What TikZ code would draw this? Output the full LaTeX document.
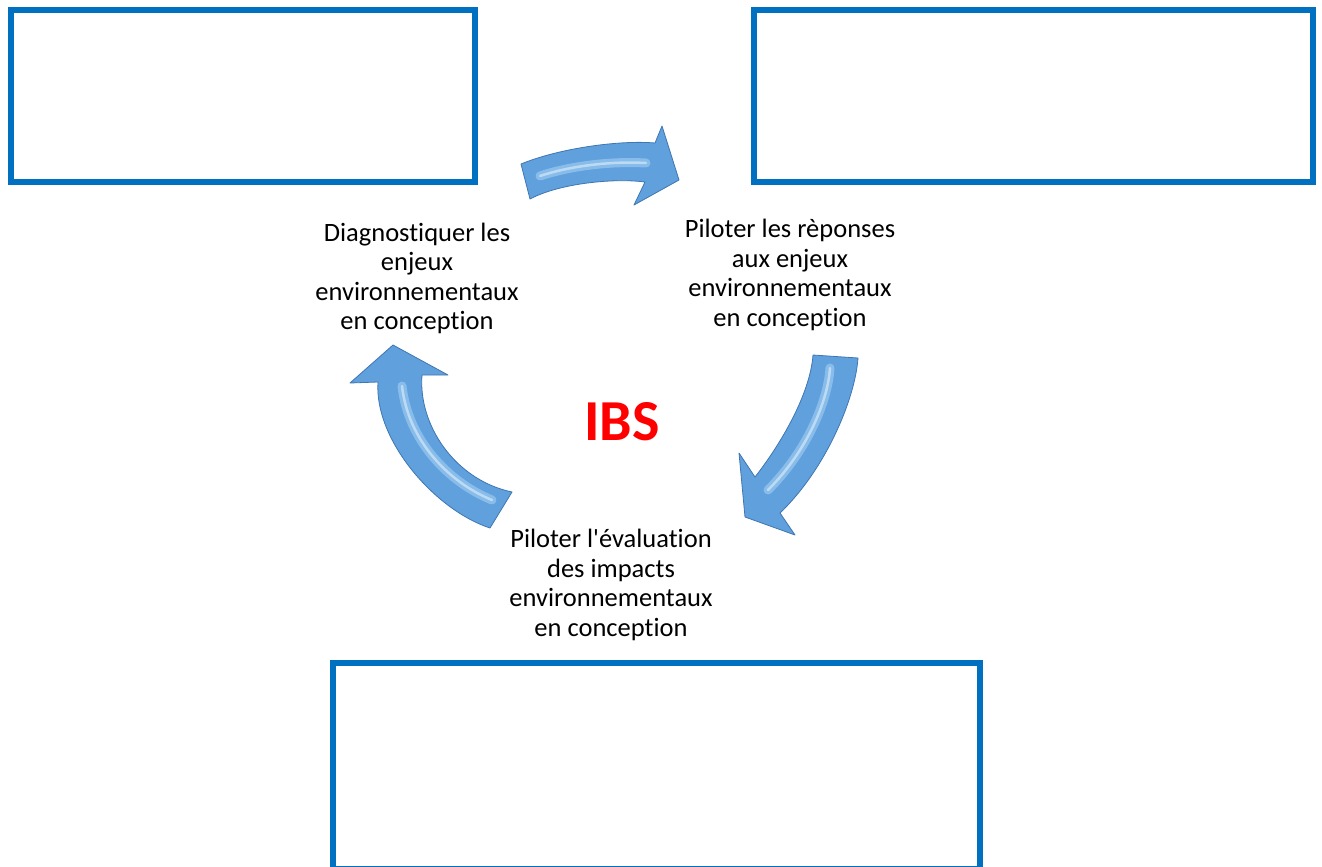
\documentclass[tikz,border=0pt]{standalone}
\usepackage{fontspec}
\setmainfont{Carlito}[Ligatures=NoCommon]
\definecolor{boxblue}{RGB}{0,112,192}
\definecolor{arrowmid}{RGB}{96,160,221}
\definecolor{arrowlight}{RGB}{170,212,246}
\definecolor{arrowdark}{RGB}{62,118,178}
\definecolor{ibsred}{RGB}{255,0,0}
\begin{document}
\begin{tikzpicture}[x=1pt,y=-1pt,
  framebox/.style={draw=boxblue, line width=6pt, inner sep=0pt, outer sep=0pt},
  steplabel/.style={align=center, font=\fontsize{26.5}{29.5}\selectfont, inner sep=0pt},
  cyclearrow/.style={fill=arrowmid, draw=arrowdark, line width=0.8pt, line join=round},
  shine/.style={draw=arrowlight, line width=9pt, line cap=round, opacity=0.55},
  glint/.style={draw=white, line width=2.5pt, line cap=round, opacity=0.45},
]
\useasboundingbox (0,0) rectangle (1322,867);
\clip (0,0) rectangle (1322,867);
\fill[white] (0,0) rectangle (1322,867);

% boxes
\node[framebox, minimum width=464pt, minimum height=172pt] (box1) at (243,96) {};
\node[framebox, minimum width=559pt, minimum height=172pt] (box2) at (1033.5,96) {};
\node[framebox, minimum width=647pt, minimum height=206pt] (box3) at (656.5,766) {};

% arrows
\path[cyclearrow] (521,164) .. controls (560,148) and (620,140) .. (655,143) -- (662,126) -- (679,180) -- (634,205) -- (645,182) .. controls (615,178) and (560,183) .. (530,199) -- cycle;
\draw[shine] (540,176) .. controls (570,166) and (610,161) .. (646,163);
\draw[glint] (540,176) .. controls (570,166) and (610,161) .. (646,163);

\path[cyclearrow] (858,358) .. controls (855,400) and (825,470) .. (780,513) -- (795,535) -- (745,517) -- (739,453) -- (755,477) .. controls (780,445) and (810,395) .. (813,355) -- cycle;
\draw[shine] (830,368) .. controls (828,400) and (808,450) .. (768,490);
\draw[glint] (830,368) .. controls (828,400) and (808,450) .. (768,490);

\path[cyclearrow] (490,528) .. controls (435,510) and (374,440) .. (378,382) -- (350,383) -- (393,345) -- (448,375) -- (422,375) .. controls (418,425) and (455,480) .. (512,492) -- cycle;
\draw[shine] (492,500) .. controls (448,482) and (408,440) .. (402,386);
\draw[glint] (492,500) .. controls (448,482) and (408,440) .. (402,386);

% labels
\node[steplabel] (diag) at (417,278.5) {Diagnostiquer les\\enjeux\\environnementaux\\en conception};
\node[steplabel] (repo) at (790,275) {Piloter les rèponses\\aux enjeux\\environnementaux\\en conception};
\node[steplabel] (eval) at (611,585) {Piloter l\textquotesingle évaluation\\des impacts\\environnementaux\\en conception};
\node[font=\fontsize{58}{60}\selectfont\bfseries, text=ibsred, inner sep=0pt] (ibs) at (622,422) {IBS};
\end{tikzpicture}
\end{document}
